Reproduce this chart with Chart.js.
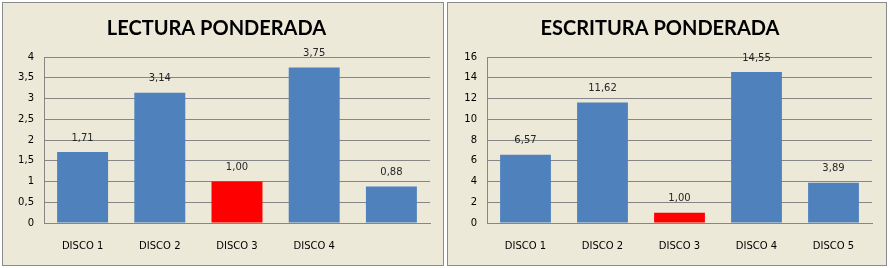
<!DOCTYPE html>
<html lang="es">
<head>
<meta charset="UTF-8">
<title>Lectura y escritura ponderada</title>
<script src="https://cdn.jsdelivr.net/npm/chart.js"></script>
<style>
  body { margin: 0; background: #fff; }
  .box { position: absolute; top: 2px; height: 264px; box-sizing: border-box;
         border: 1px solid #8c8c8c; background: #ECE9D8; }
  #boxL { left: 2px; width: 442px; }
  #boxR { left: 447px; width: 440px; }
  canvas { display: block; }
</style>
</head>
<body>

<div class="box" id="boxL"><canvas id="lectura" width="440" height="262"></canvas></div>
<div class="box" id="boxR"><canvas id="escritura" width="438" height="262"></canvas></div>

<script>
// datos
var discosLectura = ['DISCO 1', 'DISCO 2', 'DISCO 3', 'DISCO 4', ''];
var lectura = [1.71, 3.14, 1.00, 3.75, 0.88];
var lecturaTicks = { max: 4, step: 0.5 };

var discosEscritura = ['DISCO 1', 'DISCO 2', 'DISCO 3', 'DISCO 4', 'DISCO 5'];
var escritura = [6.57, 11.62, 1.00, 14.55, 3.89];
var escrituraTicks = { max: 16, step: 2 };

var referencia = 2; // DISCO 3 = base 1,00

var AZUL = '#4F81BD';
var ROJO = '#FF0000';
var GRIS = '#868686';

function coma(v, dec) {
    return (dec == null ? String(v) : v.toFixed(dec)).replace('.', ',');
}

// etiquetas encima de cada barra
var etiquetas = {
    id: 'etiquetas',
    afterDatasetsDraw: function(chart) {
        var ctx = chart.ctx;
        var meta = chart.getDatasetMeta(0);
        ctx.save();
        ctx.font = '10px "DejaVu Sans"';
        ctx.fillStyle = '#262626';
        ctx.textAlign = 'center';
        ctx.textBaseline = 'middle';
        meta.data.forEach(function(bar, i) {
            ctx.fillText(coma(chart.data.datasets[0].data[i], 2), bar.x, bar.y - 14);
        });
        ctx.restore();
    }
};

function grafico(id, titulo, labels, valores, ticks, yWidth, padRight) {
    var ctx = document.getElementById(id).getContext('2d');
    return new Chart(ctx, {
        type: 'bar',
        data: {
            labels: labels,
            datasets: [{
                data: valores,
                backgroundColor: valores.map(function(v, i) { return i === referencia ? ROJO : AZUL; }),
                borderWidth: 0,
                categoryPercentage: 1,
                barPercentage: 0.66
            }]
        },
        options: {
            responsive: false,
            animation: false,
            layout: { padding: { left: 0, right: padRight, top: 0, bottom: 0 } },
            plugins: {
                legend: { display: false },
                tooltip: { enabled: false },
                title: {
                    display: true,
                    text: titulo,
                    color: '#000',
                    font: { family: 'Lato', size: 20, weight: 'bold' },
                    padding: { top: 14, bottom: 16 }
                }
            },
            scales: {
                x: {
                    grid: { display: false, drawTicks: false },
                    border: { color: GRIS },
                    ticks: { color: '#000', font: { family: 'DejaVu Sans', size: 10 }, padding: 17 },
                    afterFit: function(s) { s.height = 42; }
                },
                y: {
                    min: 0,
                    max: ticks.max,
                    grid: { color: GRIS, drawTicks: false },
                    border: { color: GRIS },
                    ticks: {
                        stepSize: ticks.step,
                        color: '#000',
                        padding: 10,
                        font: { family: 'DejaVu Sans', size: 10 },
                        callback: function(v) { return coma(v); }
                    },
                    afterFit: function(s) { s.width = yWidth; }
                }
            }
        },
        plugins: [etiquetas]
    });
}

grafico('lectura', 'LECTURA PONDERADA', discosLectura, lectura, lecturaTicks, 41, 13);
grafico('escritura', 'ESCRITURA PONDERADA', discosEscritura, escritura, escrituraTicks, 39, 14);
</script>
</body>
</html>
